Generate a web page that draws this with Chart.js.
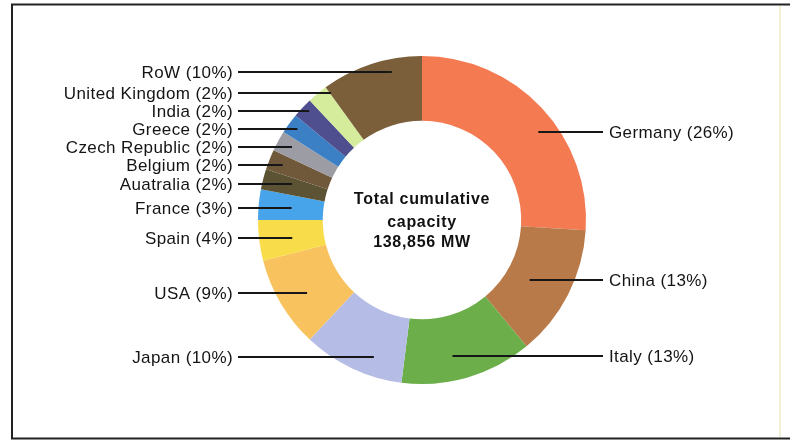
<!DOCTYPE html>
<html>
<head>
<meta charset="utf-8">
<title>Total cumulative capacity</title>
<script src="https://cdn.jsdelivr.net/npm/chart.js@4.4.0/dist/chart.umd.min.js"></script>
<style>
  html, body { margin: 0; padding: 0; background: #fff; }
  #wrap { width: 790px; height: 440px; position: relative; }
</style>
</head>
<body>
<div id="wrap"><canvas id="capacityChart" width="790" height="440"></canvas></div>
<script>
// shares of total cumulative capacity, clockwise from 12 o'clock
const countries = ['Germany', 'China', 'Italy', 'Japan', 'USA', 'Spain', 'France',
  'Auatralia', 'Belgium', 'Czech Republic', 'Greece', 'India', 'United Kingdom', 'RoW'];
const shares = [26, 13, 13, 10, 9, 4, 3, 2, 2, 2, 2, 2, 2, 10];
const sliceColors = ['#f47a52', '#b97a4a', '#6cae4a', '#b5bde6', '#f8c25e', '#f8dc4a', '#47a4ea',
  '#5c5334', '#70593a', '#9c9ca4', '#3b80c4', '#4f4e8e', '#d4ec9c', '#7b5f3b'];
const totalMW = 138856;

// label placement: text row and how deep the leader reaches into the ring (0 = hole, 1 = rim)
const labelRows = [132, 280, 356, 357, 293, 238, 208, 184, 165, 147, 129, 111, 93, 72];
const leaderDepth = [0.72, 0.37, 0.62, 0.71, 0.57, 0.49, 0.49, 0.55, 0.78, 0.77, 0.85, 0.89, 0.88, 0.8];

const FONT = '"Liberation Sans", Arial, Helvetica, sans-serif';

const calloutPlugin = {
  id: 'callouts',
  beforeDraw(chart) {
    const ctx = chart.ctx;
    ctx.save();
    ctx.fillStyle = '#ffffff';
    ctx.fillRect(0, 0, chart.width, chart.height);
    ctx.restore();
  },
  afterDraw(chart) {
    const ctx = chart.ctx;
    const arcs = chart.getDatasetMeta(0).data;
    const leftEdge = 238, rightEdge = 603;

    ctx.save();
    ctx.font = '17px ' + FONT;
    ctx.textBaseline = 'middle';
    if ('letterSpacing' in ctx) ctx.letterSpacing = '0.4px';

    arcs.forEach((arc, i) => {
      const p = arc.getProps(['x', 'y', 'startAngle', 'endAngle', 'innerRadius', 'outerRadius'], true);
      const mid = (p.startAngle + p.endAngle) / 2;
      const onLeft = Math.cos(mid) < 0;
      const y = labelRows[i];
      const r = p.innerRadius + leaderDepth[i] * (p.outerRadius - p.innerRadius);
      const dy = y - p.y;
      const dx = Math.sqrt(Math.max(r * r - dy * dy, 0));
      const endX = onLeft ? p.x - dx : p.x + dx;

      ctx.strokeStyle = '#161616';
      ctx.lineWidth = 2;
      ctx.beginPath();
      ctx.moveTo(onLeft ? leftEdge : rightEdge, y);
      ctx.lineTo(endX, y);
      ctx.stroke();

      ctx.fillStyle = '#141414';
      const text = countries[i] + ' (' + shares[i] + '%)';
      if (onLeft) {
        ctx.textAlign = 'right';
        ctx.fillText(text, leftEdge - 5, y + 1);
      } else {
        ctx.textAlign = 'left';
        ctx.fillText(text, rightEdge + 6, y + 1);
      }
    });

    // centre caption
    const c = arcs[0];
    ctx.font = 'bold 16px ' + FONT;
    if ('letterSpacing' in ctx) ctx.letterSpacing = '0.7px';
    ctx.textAlign = 'center';
    ctx.fillStyle = '#111';
    ctx.fillText('Total cumulative', c.x, c.y - 20);
    ctx.fillText('capacity', c.x, c.y + 3);
    ctx.fillText(totalMW.toLocaleString('en-US') + ' MW', c.x, c.y + 23);

    // frame
    if ('letterSpacing' in ctx) ctx.letterSpacing = '0px';
    ctx.strokeStyle = '#222';
    ctx.lineWidth = 2;
    ctx.beginPath();
    ctx.moveTo(790, 4.5);
    ctx.lineTo(12, 4.5);
    ctx.lineTo(12, 438.5);
    ctx.lineTo(790, 438.5);
    ctx.stroke();
    ctx.strokeStyle = '#f2f0d2';
    ctx.lineWidth = 2;
    ctx.beginPath();
    ctx.moveTo(780, 6);
    ctx.lineTo(780, 437);
    ctx.stroke();
    ctx.restore();
  }
};

new Chart(document.getElementById('capacityChart').getContext('2d'), {
  type: 'doughnut',
  data: {
    labels: countries,
    datasets: [{
      data: shares,
      backgroundColor: sliceColors,
      borderWidth: 0
    }]
  },
  options: {
    responsive: false,
    animation: false,
    events: [],
    cutout: '60.5%',
    layout: { padding: { left: 258, right: 204, top: 56, bottom: 56 } },
    plugins: {
      legend: { display: false },
      tooltip: { enabled: false }
    }
  },
  plugins: [calloutPlugin]
});
</script>
</body>
</html>
